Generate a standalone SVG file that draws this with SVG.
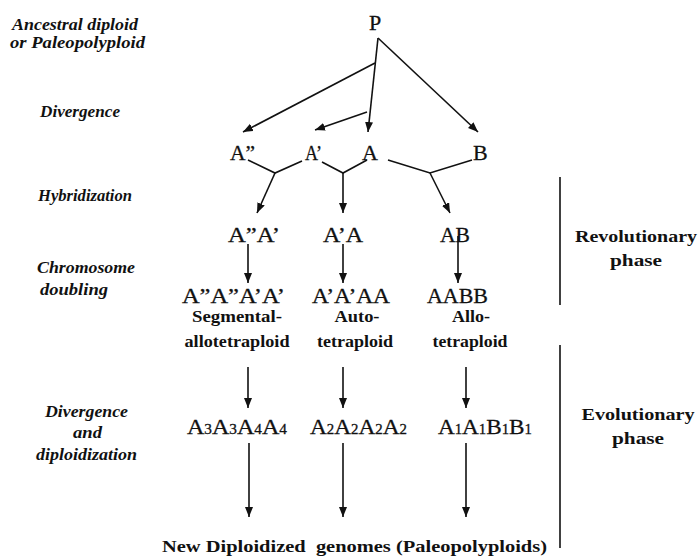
<svg xmlns="http://www.w3.org/2000/svg" width="699" height="559" viewBox="0 0 699 559">
<style>
  .bg { fill: #ffffff; }
  .g { font-family: "Liberation Serif", "Times New Roman", serif; font-size: 22px; fill: #111; stroke: #111; stroke-width: 0.3; }
  .sub { font-size: 14px; }
  .b { font-family: "Liberation Serif", "Times New Roman", serif; font-size: 16px; font-weight: bold; fill: #111; }
  .it { font-family: "Liberation Serif", "Times New Roman", serif; font-size: 16px; font-weight: bold; font-style: italic; fill: #111; }
  .ln { stroke: #111; stroke-width: 1.6; fill: none; }
  .arr { stroke: #111; stroke-width: 1.6; fill: none; marker-end: url(#ah); }
</style>
<defs>
  <marker id="ah" markerUnits="userSpaceOnUse" markerWidth="11" markerHeight="9" refX="10" refY="4" orient="auto">
    <path d="M0,0 L10,4 L0,8 z" fill="#111"/>
  </marker>
</defs>
<rect class="bg" x="0" y="0" width="699" height="559"/>

<g id="stage-labels">
  <text class="it" x="12" y="30" textLength="126" lengthAdjust="spacingAndGlyphs">Ancestral diploid</text>
  <text class="it" x="10" y="48" textLength="135" lengthAdjust="spacingAndGlyphs">or Paleopolyploid</text>
  <text class="it" x="40" y="117" textLength="80" lengthAdjust="spacingAndGlyphs">Divergence</text>
  <text class="it" x="38" y="201" textLength="94" lengthAdjust="spacingAndGlyphs">Hybridization</text>
  <text class="it" x="37" y="273" textLength="98" lengthAdjust="spacingAndGlyphs">Chromosome</text>
  <text class="it" x="40" y="295" textLength="68" lengthAdjust="spacingAndGlyphs">doubling</text>
  <text class="it" x="45" y="417" textLength="83" lengthAdjust="spacingAndGlyphs">Divergence</text>
  <text class="it" x="73" y="438" textLength="29" lengthAdjust="spacingAndGlyphs">and</text>
  <text class="it" x="36" y="460" textLength="101" lengthAdjust="spacingAndGlyphs">diploidization</text>
</g>

<g id="node-P"><text class="g" x="375" y="30" text-anchor="middle">P</text></g>
<g id="node-A2"><text class="g" x="230" y="160" textLength="25" lengthAdjust="spacingAndGlyphs">A”</text></g>
<g id="node-A1"><text class="g" x="305" y="160" textLength="17" lengthAdjust="spacingAndGlyphs">A’</text></g>
<g id="node-A"><text class="g" x="362" y="160">A</text></g>
<g id="node-B"><text class="g" x="473" y="160">B</text></g>

<g id="node-A2A1"><text class="g" x="228" y="242" textLength="52" lengthAdjust="spacingAndGlyphs">A”A’</text></g>
<g id="node-A1A"><text class="g" x="323" y="242" textLength="40" lengthAdjust="spacingAndGlyphs">A’A</text></g>
<g id="node-AB"><text class="g" x="440" y="242" textLength="30" lengthAdjust="spacingAndGlyphs">AB</text></g>

<g id="node-seg">
  <text class="g" x="182" y="303" textLength="103" lengthAdjust="spacingAndGlyphs">A”A”A’A’</text>
  <text class="b" x="237" y="322" text-anchor="middle" textLength="90" lengthAdjust="spacingAndGlyphs">Segmental-</text>
  <text class="b" x="237" y="347" text-anchor="middle" textLength="105" lengthAdjust="spacingAndGlyphs">allotetraploid</text>
</g>
<g id="node-auto">
  <text class="g" x="312" y="303" textLength="78" lengthAdjust="spacingAndGlyphs">A’A’AA</text>
  <text class="b" x="357" y="322" text-anchor="middle" textLength="45" lengthAdjust="spacingAndGlyphs">Auto-</text>
  <text class="b" x="355" y="347" text-anchor="middle" textLength="76" lengthAdjust="spacingAndGlyphs">tetraploid</text>
</g>
<g id="node-allo">
  <text class="g" x="427" y="303" textLength="61" lengthAdjust="spacingAndGlyphs">AABB</text>
  <text class="b" x="471" y="322" text-anchor="middle" textLength="38" lengthAdjust="spacingAndGlyphs">Allo-</text>
  <text class="b" x="470" y="347" text-anchor="middle" textLength="75" lengthAdjust="spacingAndGlyphs">tetraploid</text>
</g>

<g id="node-A3A4"><text class="g" x="187" y="434" textLength="100" lengthAdjust="spacingAndGlyphs">A<tspan class="sub">3</tspan>A<tspan class="sub">3</tspan>A<tspan class="sub">4</tspan>A<tspan class="sub">4</tspan></text></g>
<g id="node-A2x4"><text class="g" x="310" y="434" textLength="97" lengthAdjust="spacingAndGlyphs">A<tspan class="sub">2</tspan>A<tspan class="sub">2</tspan>A<tspan class="sub">2</tspan>A<tspan class="sub">2</tspan></text></g>
<g id="node-A1B1"><text class="g" x="438" y="434" textLength="94" lengthAdjust="spacingAndGlyphs">A<tspan class="sub">1</tspan>A<tspan class="sub">1</tspan>B<tspan class="sub">1</tspan>B<tspan class="sub">1</tspan></text></g>

<g id="node-new">
  <text class="b" x="162" y="552" textLength="385" lengthAdjust="spacingAndGlyphs" xml:space="preserve">New Diploidized  genomes (Paleopolyploids)</text>
</g>

<g id="phase-rev">
  <text class="b" x="636" y="242" text-anchor="middle" textLength="122" lengthAdjust="spacingAndGlyphs">Revolutionary</text>
  <text class="b" x="636" y="266" text-anchor="middle" textLength="52" lengthAdjust="spacingAndGlyphs">phase</text>
</g>
<g id="phase-evo">
  <text class="b" x="638" y="420" text-anchor="middle" textLength="113" lengthAdjust="spacingAndGlyphs">Evolutionary</text>
  <text class="b" x="638" y="444" text-anchor="middle" textLength="52" lengthAdjust="spacingAndGlyphs">phase</text>
</g>

<g id="connectors">
  <line class="arr" x1="375" y1="63" x2="243" y2="132"/>
  <line class="arr" x1="378" y1="38" x2="368" y2="132"/>
  <line class="arr" x1="378" y1="38" x2="478" y2="132"/>
  <line class="arr" x1="367" y1="112" x2="315" y2="130"/>

  <polyline class="ln" points="248,160 275,173 302,161"/>
  <line class="arr" x1="275" y1="173" x2="257" y2="213"/>
  <polyline class="ln" points="322,162 343,173 367,160"/>
  <line class="arr" x1="343" y1="173" x2="343" y2="213"/>
  <polyline class="ln" points="388,160 430,173 472,160"/>
  <line class="arr" x1="430" y1="173" x2="450" y2="213"/>

  <line class="arr" x1="248" y1="244" x2="248" y2="283"/>
  <line class="arr" x1="343" y1="244" x2="343" y2="283"/>
  <line class="arr" x1="458" y1="236" x2="458" y2="283"/>

  <line class="arr" x1="248" y1="367" x2="248" y2="408"/>
  <line class="arr" x1="343" y1="367" x2="343" y2="408"/>
  <line class="arr" x1="466" y1="367" x2="466" y2="408"/>

  <line class="arr" x1="249" y1="443" x2="249" y2="517"/>
  <line class="arr" x1="343" y1="443" x2="343" y2="517"/>
  <line class="arr" x1="466" y1="443" x2="466" y2="517"/>

  <line class="ln" x1="560" y1="177" x2="560" y2="305"/>
  <line class="ln" x1="560" y1="345" x2="560" y2="548"/>
</g>
</svg>
